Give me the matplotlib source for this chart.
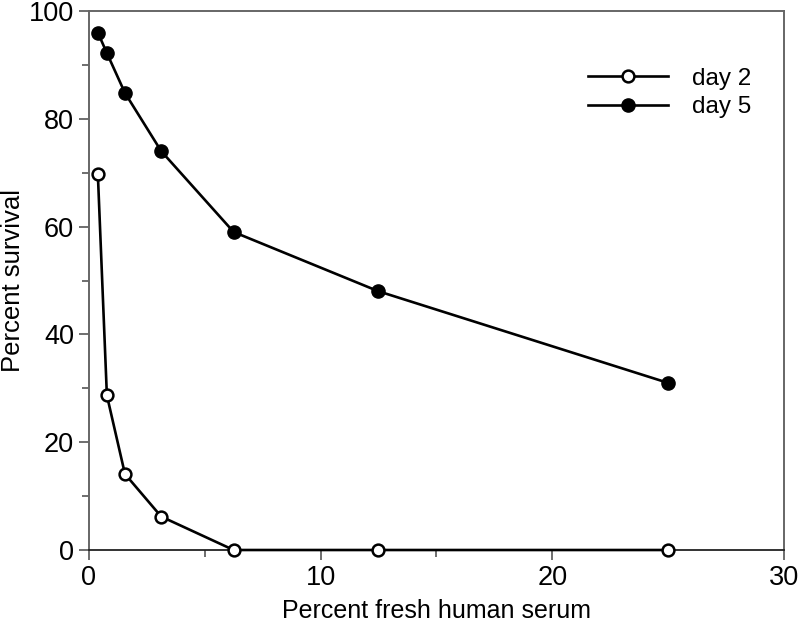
import matplotlib
matplotlib.use("Agg")
import matplotlib.pyplot as plt
from matplotlib.ticker import MultipleLocator

plt.rcParams['font.family'] = ['Liberation Sans', 'DejaVu Sans']

# --- Dados ---
serum = [0.39, 0.78, 1.56, 3.125, 6.25, 12.5, 25]
day2 = [69.8, 28.7, 14.1, 6.2, 0, 0, 0]
day5 = [96, 92.2, 84.8, 74, 59, 48, 31]

fig = plt.figure(figsize=(8, 6.26), dpi=100)
ax = fig.add_axes([0.111, 0.1214, 0.869, 0.861])

ax.plot(serum, day2, color="black", lw=1.9, marker="o", ms=8.5,
        mfc="white", mec="black", mew=1.8, label="day 2", zorder=3, clip_on=False)
ax.plot(serum, day5, color="black", lw=1.9, marker="o", ms=9.5,
        mfc="black", mec="black", label="day 5", zorder=3, clip_on=False)

ax.set_xlim(0, 30)
ax.set_ylim(0, 100)
ax.xaxis.set_major_locator(MultipleLocator(10))
ax.xaxis.set_minor_locator(MultipleLocator(5))
ax.yaxis.set_major_locator(MultipleLocator(20))
ax.yaxis.set_minor_locator(MultipleLocator(10))
ax.tick_params(which="major", direction="out", length=7, width=1.2, labelsize=19.5, color="#555555")
ax.tick_params(which="minor", direction="out", length=5, width=1.2, color="#555555")

for s in ["left", "right", "top"]:
    ax.spines[s].set_color("#666666")
    ax.spines[s].set_linewidth(1.4)
ax.spines["bottom"].set_color("#222222")
ax.spines["bottom"].set_linewidth(1.3)

ax.set_xlabel("Percent fresh human serum", fontsize=18, labelpad=6)
ax.set_ylabel("Percent survival", fontsize=18.5)
ax.yaxis.set_label_coords(-0.092, 0.5)

leg = ax.legend(loc="upper right", bbox_to_anchor=(0.985, 0.935), frameon=False,
                fontsize=17.5, handlelength=3.3, labelspacing=0.25, handletextpad=1.0)

plt.savefig("out.png", dpi=100)
plt.close()
